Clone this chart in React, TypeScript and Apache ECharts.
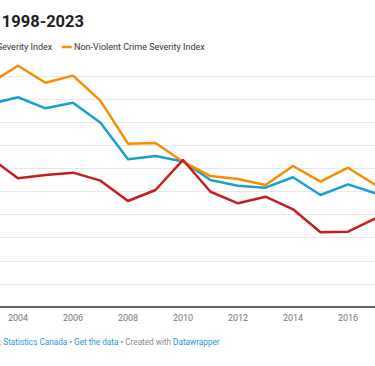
import React, { useEffect, useRef } from "react";
import * as echarts from "echarts";

const years = [1998, 1999, 2000, 2001, 2002, 2003, 2004, 2005, 2006, 2007, 2008, 2009, 2010, 2011, 2012, 2013, 2014, 2015, 2016, 2017, 2018, 2019, 2020, 2021, 2022, 2023];
const crimeSeverity = [200, 195, 186, 181, 178, 175.8, 181.6, 172.0, 176.9, 159.6, 127.9, 130.7, 126.0, 110.0, 105.0, 103.3, 112.3, 97.0, 106.2, 98.4, 102, 106, 97, 97, 104, 108];
const violentSeverity = [140, 138, 135, 133, 131, 129.0, 111.4, 114.3, 116.3, 109.4, 91.8, 101.3, 127.3, 99.8, 89.8, 95.5, 84.6, 64.7, 65.2, 76.8, 82, 88, 86, 90, 95, 98];
const nonViolentSeverity = [230, 220, 206, 200, 197, 193.9, 208.9, 194.2, 200.3, 178.4, 141.4, 142.0, 125.8, 113.4, 110.8, 105.6, 122.1, 108.5, 120.6, 105.6, 110, 112, 100, 98, 108, 112];
const yTicks = { min: 0, max: 200, step: 20 };
const xTicks = { min: 1998, max: 2023, step: 2 };

const seriesNames = ["Crime Severity Index", "Violent Crime Severity Index", "Non-Violent Crime Severity Index"];
const seriesColors = ["#18a1cd", "#c71e1d", "#fa8c00"];

const OFFSET = 200; // chart x = page x + OFFSET

export default function App() {
  const ref = useRef<HTMLDivElement>(null);
  useEffect(() => {
    if (!ref.current) return;
    const chart = echarts.init(ref.current, null, { renderer: "svg" });
    const pair = (arr: number[]) => years.map((y, i) => [y, arr[i]]);
    const font = "Roboto, 'Noto Sans', sans-serif";
    chart.setOption({
      animation: false,
      grid: { left: 53, right: 59.5, top: 76, bottom: 59, containLabel: false },
      xAxis: {
        type: "value",
        min: xTicks.min,
        max: xTicks.max,
        interval: xTicks.step,
        axisLine: { show: true, lineStyle: { color: "#333333", width: 1.5 } },
        axisTick: { show: false },
        splitLine: { show: false },
        axisLabel: { color: "#777777", fontSize: 9, fontFamily: font, margin: 6, formatter: (v: number) => String(v) },
      },
      yAxis: {
        type: "value",
        min: yTicks.min,
        max: yTicks.max,
        interval: yTicks.step,
        axisLine: { show: false },
        axisTick: { show: false },
        splitLine: { show: true, lineStyle: { color: "#e8e8e8", width: 1 } },
        axisLabel: { color: "#777777", fontSize: 9, fontFamily: font },
      },
      series: [
        { name: seriesNames[0], type: "line", data: pair(crimeSeverity), color: seriesColors[0] },
        { name: seriesNames[2], type: "line", data: pair(nonViolentSeverity), color: seriesColors[2] },
        { name: seriesNames[1], type: "line", data: pair(violentSeverity), color: seriesColors[1] },
      ].map((s) => ({
        ...s,
        symbol: "none",
        clip: false,
        lineStyle: { width: 2.5, color: s.color, join: "round" },
      })),
      graphic: [
        {
          type: "text",
          x: OFFSET + 84,
          y: 21.5,
          style: {
            text: "Crime Severity Indexes 1998-2023",
            fontFamily: font,
            fontWeight: "bold",
            fontSize: 16.5,
            fill: "#1d1d1d",
            align: "right",
            verticalAlign: "middle",
          },
        },
        // legend
        { type: "rect", shape: { x: OFFSET - 175, y: 45.8, width: 10, height: 2.5 }, style: { fill: seriesColors[0] } },
        {
          type: "text", x: OFFSET - 162.5, y: 47,
          style: { text: seriesNames[0], fontFamily: font, fontSize: 9, fill: "#333333", align: "left", verticalAlign: "middle" },
        },
        { type: "rect", shape: { x: OFFSET - 72, y: 45.8, width: 10, height: 2.5 }, style: { fill: seriesColors[1] } },
        {
          type: "text", x: OFFSET + 52.3, y: 47,
          style: { text: seriesNames[1], fontFamily: font, fontSize: 9, fill: "#333333", align: "right", verticalAlign: "middle" },
        },
        { type: "rect", shape: { x: OFFSET + 61.7, y: 45.8, width: 10, height: 2.5 }, style: { fill: seriesColors[2] } },
        {
          type: "text", x: OFFSET + 74, y: 47,
          style: { text: seriesNames[2], fontFamily: font, fontSize: 9, fill: "#333333", align: "left", verticalAlign: "middle" },
        },
        // footer
        {
          type: "text", x: OFFSET + 1.5, y: 342,
          style: { text: "Source:", fontFamily: font, fontSize: 8.2, fill: "#888888", align: "right", verticalAlign: "middle" },
        },
        {
          type: "text", x: OFFSET + 3.3, y: 342,
          style: {
            text: "{a|Statistics Canada}{g| • }{a|Get the data}{g| • Created with }{a|Datawrapper}",
            fontFamily: font,
            fontSize: 8.2,
            align: "left",
            verticalAlign: "middle",
            rich: {
              a: { fill: "#2a97cf", fontSize: 8.2, fontFamily: font },
              g: { fill: "#8a8a8a", fontSize: 8.2, fontFamily: font },
            },
          },
        },
      ],
    });
    return () => chart.dispose();
  }, []);
  return (
    <div style={{ position: "fixed", left: 0, top: 0, width: 375, height: 366, overflow: "hidden", background: "#ffffff" }}>
      <div ref={ref} style={{ position: "absolute", left: -OFFSET, top: 0, width: 800, height: 366 }} />
    </div>
  );
}
